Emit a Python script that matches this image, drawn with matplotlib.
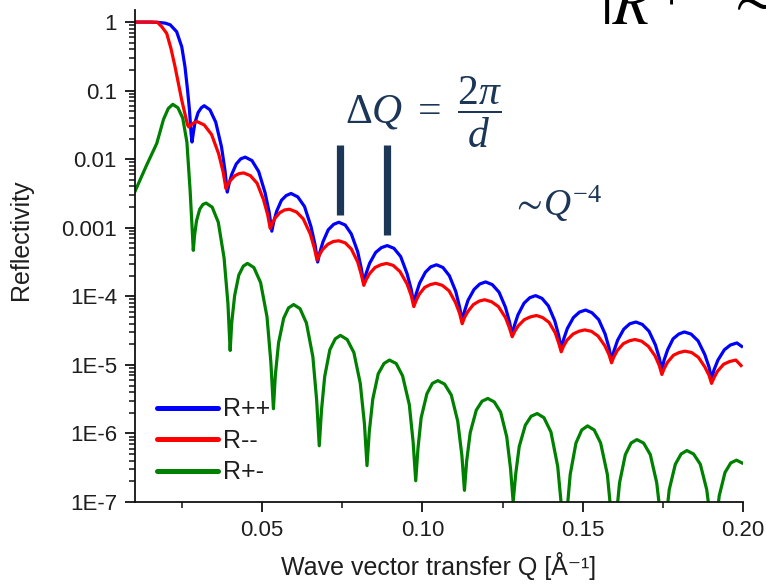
import numpy as np
import matplotlib.pyplot as plt
from matplotlib.ticker import MultipleLocator, LogLocator, NullFormatter

plt.rcParams['font.family'] = ['Liberation Sans', 'DejaVu Sans']
# serif italic math for the slide annotations
plt.rcParams['mathtext.fontset'] = 'custom'
plt.rcParams['mathtext.rm'] = 'Liberation Serif'
plt.rcParams['mathtext.it'] = 'Liberation Serif:italic'
plt.rcParams['mathtext.fallback'] = 'stix'

# R++ : Q values and log10(R)
q_pp = [0.0103, 0.0150, 0.0175, 0.0197, 0.0213, 0.0233, 0.0249, 0.0259, 0.0267, 0.0273, 0.0278,
        0.0281, 0.0285, 0.0290, 0.0300, 0.0310, 0.0319,
        0.0337, 0.0355, 0.0373, 0.0384, 0.0391,
        0.0397, 0.0405, 0.0419, 0.0433, 0.0447,
        0.0468, 0.0489, 0.0509, 0.0522, 0.0530,
        0.0536, 0.0545, 0.0560, 0.0575, 0.0590,
        0.0611, 0.0632, 0.0652, 0.0665, 0.0673,
        0.0680, 0.0690, 0.0706, 0.0723, 0.0739,
        0.0759, 0.0778, 0.0798, 0.0809, 0.0817,
        0.0824, 0.0835, 0.0854, 0.0872, 0.0890,
        0.0911, 0.0932, 0.0952, 0.0965, 0.0973,
        0.0980, 0.0991, 0.1009, 0.1026, 0.1044,
        0.1064, 0.1084, 0.1104, 0.1116, 0.1124,
        0.1131, 0.1142, 0.1161, 0.1179, 0.1197,
        0.1218, 0.1239, 0.1259, 0.1272, 0.1280,
        0.1287, 0.1298, 0.1317, 0.1335, 0.1353,
        0.1373, 0.1393, 0.1413, 0.1425, 0.1433,
        0.1441, 0.1452, 0.1471, 0.1490, 0.1509,
        0.1529, 0.1550, 0.1570, 0.1582, 0.1590,
        0.1598, 0.1609, 0.1628, 0.1647, 0.1666,
        0.1686, 0.1707, 0.1727, 0.1739, 0.1747,
        0.1754, 0.1765, 0.1782, 0.1800, 0.1817,
        0.1838, 0.1860, 0.1881, 0.1894, 0.1902,
        0.1910, 0.1922, 0.1942, 0.1961, 0.1981,
        0.1996]
log_pp = [0.0, 0.0, -0.005, -0.015, -0.04, -0.14, -0.36, -0.65, -0.99, -1.28, -1.62,
          -1.75, -1.62, -1.47, -1.32, -1.25, -1.22,
          -1.28, -1.46, -1.82, -2.17, -2.48,
          -2.35, -2.22, -2.07, -1.995, -1.97,
          -2.02, -2.18, -2.49, -2.78, -3.05,
          -2.91, -2.76, -2.60, -2.53, -2.50,
          -2.55, -2.69, -2.98, -3.25, -3.50,
          -3.355, -3.20, -3.03, -2.95, -2.92,
          -2.96, -3.09, -3.35, -3.59, -3.81,
          -3.67, -3.52, -3.36, -3.29, -3.26,
          -3.30, -3.42, -3.67, -3.90, -4.11,
          -3.97, -3.81, -3.65, -3.57, -3.54,
          -3.58, -3.70, -3.93, -4.16, -4.36,
          -4.22, -4.06, -3.90, -3.82, -3.79,
          -3.83, -3.94, -4.16, -4.38, -4.57,
          -4.425, -4.27, -4.10, -4.02, -3.99,
          -4.03, -4.14, -4.36, -4.57, -4.76,
          -4.62, -4.47, -4.31, -4.23, -4.20,
          -4.24, -4.34, -4.55, -4.75, -4.93,
          -4.79, -4.64, -4.48, -4.40, -4.375,
          -4.41, -4.51, -4.71, -4.90, -5.07,
          -4.93, -4.78, -4.62, -4.55, -4.52,
          -4.55, -4.65, -4.85, -5.03, -5.20,
          -5.07, -4.93, -4.78, -4.71, -4.68,
          -4.73]

# R--
q_mm = [0.0103, 0.0150, 0.0173, 0.0187, 0.0202, 0.0215, 0.0228, 0.0249, 0.0262, 0.0267,
        0.0271, 0.0283, 0.0296,
        0.0319, 0.0342, 0.0364, 0.0378, 0.0387,
        0.0392, 0.0401, 0.0415, 0.0428, 0.0442,
        0.0463, 0.0484, 0.0504, 0.0517, 0.0525,
        0.0531, 0.0540, 0.0555, 0.0570, 0.0585,
        0.0607, 0.0628, 0.0650, 0.0662, 0.0671,
        0.0678, 0.0688, 0.0705, 0.0722, 0.0739,
        0.0759, 0.0778, 0.0798, 0.0809, 0.0817,
        0.0824, 0.0835, 0.0852, 0.0870, 0.0888,
        0.0909, 0.0930, 0.0952, 0.0965, 0.0973,
        0.0980, 0.0990, 0.1007, 0.1024, 0.1041,
        0.1062, 0.1083, 0.1103, 0.1116, 0.1124,
        0.1131, 0.1142, 0.1159, 0.1177, 0.1194,
        0.1216, 0.1237, 0.1259, 0.1271, 0.1280,
        0.1288, 0.1299, 0.1318, 0.1337, 0.1356,
        0.1375, 0.1395, 0.1414, 0.1425, 0.1433,
        0.1440, 0.1451, 0.1470, 0.1488, 0.1506,
        0.1527, 0.1548, 0.1569, 0.1582, 0.1590,
        0.1597, 0.1608, 0.1627, 0.1645, 0.1663,
        0.1684, 0.1705, 0.1726, 0.1739, 0.1747,
        0.1754, 0.1765, 0.1783, 0.1801, 0.1819,
        0.1840, 0.1861, 0.1881, 0.1894, 0.1902,
        0.1910, 0.1921, 0.1940, 0.1959, 0.1978,
        0.1994]
log_mm = [0.0, 0.0, -0.003, -0.07, -0.165, -0.38, -0.65, -1.14, -1.40, -1.50,
          -1.53, -1.48, -1.45,
          -1.50, -1.64, -1.92, -2.185, -2.43,
          -2.37, -2.31, -2.24, -2.21, -2.20,
          -2.24, -2.35, -2.59, -2.81, -3.01,
          -2.94, -2.86, -2.78, -2.74, -2.73,
          -2.77, -2.87, -3.09, -3.285, -3.47,
          -3.40, -3.32, -3.24, -3.20, -3.19,
          -3.22, -3.31, -3.50, -3.68, -3.84,
          -3.76, -3.67, -3.58, -3.54, -3.52,
          -3.55, -3.64, -3.82, -3.99, -4.15,
          -4.065, -3.97, -3.87, -3.83, -3.81,
          -3.84, -3.92, -4.09, -4.25, -4.40,
          -4.31, -4.22, -4.12, -4.07, -4.05,
          -4.08, -4.15, -4.31, -4.455, -4.59,
          -4.51, -4.43, -4.34, -4.30, -4.28,
          -4.31, -4.38, -4.53, -4.68, -4.81,
          -4.73, -4.64, -4.55, -4.51, -4.49,
          -4.51, -4.58, -4.72, -4.85, -4.97,
          -4.885, -4.79, -4.69, -4.65, -4.63,
          -4.655, -4.73, -4.87, -5.01, -5.14,
          -5.055, -4.96, -4.86, -4.82, -4.80,
          -4.82, -4.89, -5.03, -5.15, -5.27,
          -5.185, -5.09, -4.99, -4.95, -4.93,
          -5.01]

# R+-
q_pm = [0.0103, 0.0140, 0.0171, 0.0192, 0.0207, 0.0221, 0.0237, 0.0252, 0.0265, 0.0275,
        0.0285, 0.0289, 0.0295, 0.0305, 0.0315, 0.0325,
        0.0344, 0.0363, 0.0381, 0.0393, 0.0400,
        0.0405, 0.0414, 0.0427, 0.0441, 0.0454,
        0.0474, 0.0495, 0.0515, 0.0527, 0.0535,
        0.0541, 0.0551, 0.0567, 0.0582, 0.0598,
        0.0618, 0.0638, 0.0658, 0.0670, 0.0678,
        0.0685, 0.0695, 0.0711, 0.0728, 0.0744,
        0.0765, 0.0786, 0.0806, 0.0819, 0.0827,
        0.0834, 0.0845, 0.0862, 0.0880, 0.0897,
        0.0918, 0.0938, 0.0959, 0.0971, 0.0979,
        0.0986, 0.0996, 0.1014, 0.1031, 0.1048,
        0.1069, 0.1090, 0.1110, 0.1123, 0.1131,
        0.1138, 0.1149, 0.1168, 0.1186, 0.1204,
        0.1224, 0.1244, 0.1263, 0.1275, 0.1283,
        0.1291, 0.1302, 0.1321, 0.1339, 0.1358,
        0.1379, 0.1401, 0.1422, 0.1435, 0.1443,
        0.1450, 0.1461, 0.1479, 0.1497, 0.1515,
        0.1536, 0.1556, 0.1577, 0.1589, 0.1597,
        0.1604, 0.1615, 0.1633, 0.1651, 0.1669,
        0.1690, 0.1711, 0.1731, 0.1744, 0.1752,
        0.1759, 0.1770, 0.1789, 0.1807, 0.1825,
        0.1846, 0.1867, 0.1887, 0.1900, 0.1908,
        0.1915, 0.1926, 0.1944, 0.1962, 0.1980,
        0.1997]
log_pm = [-2.47, -2.08, -1.77, -1.42, -1.26, -1.20, -1.25, -1.40, -1.75, -2.45,
          -3.33, -3.11, -2.90, -2.73, -2.66, -2.64,
          -2.70, -2.92, -3.44, -4.10, -4.79,
          -4.38, -3.99, -3.69, -3.56, -3.52,
          -3.58, -3.80, -4.30, -4.96, -5.64,
          -5.15, -4.68, -4.32, -4.17, -4.12,
          -4.18, -4.39, -4.88, -5.52, -6.18,
          -5.66, -5.17, -4.78, -4.62, -4.57,
          -4.63, -4.82, -5.27, -5.86, -6.47,
          -5.98, -5.50, -5.13, -4.98, -4.93,
          -4.98, -5.16, -5.58, -6.13, -6.69,
          -6.22, -5.77, -5.42, -5.27, -5.23,
          -5.28, -5.44, -5.82, -6.32, -6.83,
          -6.40, -5.99, -5.66, -5.53, -5.49,
          -5.54, -5.69, -6.05, -6.52, -7.00,
          -6.59, -6.19, -5.88, -5.75, -5.71,
          -5.77, -5.98, -6.48, -7.13, -7.80,
          -7.19, -6.60, -6.14, -5.95, -5.89,
          -5.95, -6.14, -6.60, -7.19, -7.80,
          -7.25, -6.72, -6.31, -6.14, -6.09,
          -6.14, -6.31, -6.72, -7.25, -7.80,
          -7.30, -6.82, -6.45, -6.30, -6.25,
          -6.30, -6.45, -6.82, -7.30, -7.80,
          -7.35, -6.91, -6.57, -6.43, -6.39,
          -6.43]

series_labels = ['R++', 'R--', 'R+-']
ytick_vals = [1e-7, 1e-6, 1e-5, 1e-4, 1e-3, 1e-2, 1e-1, 1]
ytick_labels = ['1E-7', '1E-6', '1E-5', '1E-4', '0.001', '0.01', '0.1', '1']
xtick_vals = [0.05, 0.10, 0.15, 0.20]
xtick_labels = ['0.05', '0.10', '0.15', '0.20']

navy = '#1b3656'
txt = '#1e1e1e'

fig = plt.figure(figsize=(7.66, 5.85), dpi=100)
ax = fig.add_axes([0.1762, 0.1419, 0.7937, 0.841])

ax.plot(q_pp, 10 ** np.array(log_pp), color='#0000ff', lw=2.3, label=series_labels[0], solid_joinstyle='round')
ax.plot(q_mm, 10 ** np.array(log_mm), color='#ff0000', lw=2.3, label=series_labels[1], solid_joinstyle='round')
ax.plot(q_pm, 10 ** np.array(log_pm), color='#008000', lw=2.3, label=series_labels[2], solid_joinstyle='round')

ax.set_yscale('log')
ax.set_xlim(0.0103, 0.20)
ax.set_ylim(1e-7, 1.5)
ax.set_yticks(ytick_vals, ytick_labels)
ax.yaxis.set_minor_locator(LogLocator(base=10, subs=np.arange(2, 10), numticks=20))
ax.yaxis.set_minor_formatter(NullFormatter())
ax.set_xticks(xtick_vals, xtick_labels)
ax.xaxis.set_minor_locator(MultipleLocator(0.025))

for s in ['top', 'right']:
    ax.spines[s].set_visible(False)
for s in ['left', 'bottom']:
    ax.spines[s].set_linewidth(1.3)
    ax.spines[s].set_color('#111111')

ax.tick_params(which='major', length=7, width=1.3, labelsize=16, labelcolor=txt, pad=6, color='#111111')
ax.tick_params(which='minor', length=4, width=1.1, color='#111111')

ax.set_ylabel('Reflectivity', fontsize=18, color=txt)
ax.yaxis.set_label_coords(-0.168, 0.533)
ax.set_xlabel('Wave vector transfer Q [Å⁻¹]', fontsize=18, color=txt)
ax.xaxis.set_label_coords(0.5, -0.102)

leg = ax.legend(loc='lower left', bbox_to_anchor=(0.036, 0.036), frameon=False, fontsize=18,
                handlelength=2.45, handletextpad=0.2, labelspacing=0.3, borderpad=0, borderaxespad=0)
for line in leg.get_lines():
    line.set_linewidth(3.6)
    line.set_solid_capstyle('round')
for t in leg.get_texts():
    t.set_color(txt)

# period marks above two neighbouring R++ fringes
bar_q = [0.0744, 0.0890]
bar_top = [10 ** -1.80, 10 ** -1.80]
bar_bottom = [10 ** -2.82, 10 ** -3.11]
for q, y0, y1 in zip(bar_q, bar_top, bar_bottom):
    ax.plot([q, q], [y0, y1], color=navy, lw=5.2, solid_capstyle='butt')

fig.text(0.553, 0.8085, r'$\mathit{Δ}Q\ =\ \dfrac{2\mathit{π}}{d}$', math_fontfamily='custom',
         fontsize=30, color=navy, ha='center', va='center')
fig.text(0.727, 0.651, r'$\sim\! Q^{-4}$', math_fontfamily='custom',
         fontsize=27, color=navy, ha='center', va='center')

# clipped slide text in the top right corner
fig.text(0.783, 1 - 25 / 585, r'$|R^{+}$', math_fontfamily='stix', fontsize=44,
         color='black', ha='left', va='baseline')
fig.text(0.948, 1 - 17 / 585, r'$\sim$', math_fontfamily='stix', fontsize=44,
         color='black', ha='left', va='baseline')

fig.savefig('out.png', dpi=100)
